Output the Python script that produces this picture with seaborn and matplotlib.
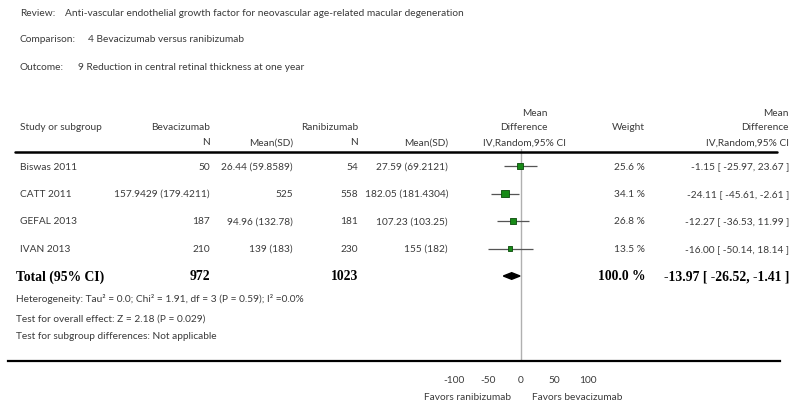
import numpy as np
import pandas as pd
import matplotlib
matplotlib.use("Agg")
import matplotlib.pyplot as plt
import seaborn as sns
from matplotlib.lines import Line2D
from matplotlib.transforms import blended_transform_factory

# Study data
studies = ["Biswas 2011", "CATT 2011", "GEFAL 2013", "IVAN 2013"]
bev_n = ["50", "157.9429 (179.4211)", "187", "210"]
bev_mean = ["26.44 (59.8589)", "525", "94.96 (132.78)", "139 (183)"]
ran_n = ["54", "558", "181", "230"]
ran_mean = ["27.59 (69.2121)", "182.05 (181.4304)", "107.23 (103.25)", "155 (182)"]
md = [-1.15, -24.11, -12.27, -16.00]
ci_low = [-25.97, -45.61, -36.53, -50.14]
ci_high = [23.67, -2.61, 11.99, 18.14]
weight = [25.6, 34.1, 26.8, 13.5]

total_bev_n = "972"
total_ran_n = "1023"
total_md, total_low, total_high = -13.97, -26.52, -1.41
tick_vals = [-100, -50, 0, 50, 100]

df = pd.DataFrame({"study": studies, "md": md, "low": ci_low, "high": ci_high,
                   "weight": weight, "row": np.arange(len(studies))})

sns.set_style("white")
plt.rcParams["font.family"] = ["Lato", "DejaVu Sans"]
txt = "#3a3a3a"
fs = 7.3

W, H = 800, 410
def fx(x):
    return x / W
def fy(y):
    return 1 - y / H

fig = plt.figure(figsize=(8, 4.1), dpi=100)

# forest axes: zero at x=521px, 0.666 px per unit
ax = fig.add_axes([fx(8), fy(362), (780 - 8) / W, (362 - 150) / H])
ax.set_xlim((8 - 521) / 0.666, (780 - 521) / 0.666)
row_h = 27.5
ax.set_ylim((362 - 167) / row_h, (150 - 167) / row_h)

ax.axvline(0, color="#b0b0b0", lw=1.0, zorder=0)
ax.hlines(df["row"], df["low"], df["high"], color="#555555", lw=0.9, zorder=1)
sns.scatterplot(data=df, x="md", y="row", size="weight", sizes=(9, 27),
                marker="s", color="#178a17", edgecolor="#0a4a0a", linewidth=0.6,
                legend=False, ax=ax, zorder=2)

# summary diamond
trow = len(studies)
ax.fill([total_low, total_md, total_high, total_md],
        [trow, trow - 0.12, trow, trow + 0.12], color="black", zorder=3)

for s in ["left", "top", "right"]:
    ax.spines[s].set_visible(False)
ax.spines["bottom"].set_linewidth(1.6)
ax.spines["bottom"].set_color("black")
ax.set_yticks([])
ax.set_xticks(tick_vals)
ax.set_xticklabels([str(v) for v in tick_vals])
ax.tick_params(axis="x", direction="in", length=4, width=1, color="black",
               pad=10, labelsize=fs, labelcolor=txt)
ax.set_xlabel("")
ax.set_ylabel("")
ax.patch.set_alpha(0)

# title block
fig.text(fx(20), fy(13), "Review:", fontsize=fs, color=txt, va="center")
fig.text(fx(65), fy(13), "Anti-vascular endothelial growth factor for neovascular age-related macular degeneration",
         fontsize=fs, color=txt, va="center")
fig.text(fx(20), fy(40), "Comparison:", fontsize=fs, color=txt, va="center")
fig.text(fx(88), fy(40), "4 Bevacizumab versus ranibizumab", fontsize=fs, color=txt, va="center")
fig.text(fx(20), fy(68), "Outcome:", fontsize=fs, color=txt, va="center")
fig.text(fx(78), fy(68), "9 Reduction in central retinal thickness at one year", fontsize=fs, color=txt, va="center")

# column headers
hdr = dict(fontsize=fs, color=txt, va="center")
fig.text(fx(20), fy(127), "Study or subgroup", ha="left", **hdr)
fig.text(fx(210), fy(127), "Bevacizumab", ha="right", **hdr)
fig.text(fx(358), fy(127), "Ranibizumab", ha="right", **hdr)
fig.text(fx(210), fy(143), "N", ha="right", **hdr)
fig.text(fx(293), fy(143), "Mean(SD)", ha="right", **hdr)
fig.text(fx(358), fy(143), "N", ha="right", **hdr)
fig.text(fx(448), fy(143), "Mean(SD)", ha="right", **hdr)
fig.text(fx(548), fy(114), "Mean", ha="right", **hdr)
fig.text(fx(548), fy(127), "Difference", ha="right", **hdr)
fig.text(fx(483), fy(143), "IV,Random,95% CI", ha="left", **hdr)
fig.text(fx(645), fy(127), "Weight", ha="right", **hdr)
fig.text(fx(789), fy(114), "Mean", ha="right", **hdr)
fig.text(fx(789), fy(127), "Difference", ha="right", **hdr)
fig.text(fx(789), fy(143), "IV,Random,95% CI", ha="right", **hdr)

fig.add_artist(Line2D([fx(15), fx(777)], [fy(153), fy(153)], transform=fig.transFigure,
                      color="black", lw=1.8))

# study rows
trans = blended_transform_factory(fig.transFigure, ax.transData)
for i in range(len(studies)):
    kw = dict(transform=trans, fontsize=fs, color=txt, va="center")
    ax.text(fx(20), i, studies[i], ha="left", **kw)
    ax.text(fx(210), i, bev_n[i], ha="right", **kw)
    ax.text(fx(293), i, bev_mean[i], ha="right", **kw)
    ax.text(fx(358), i, ran_n[i], ha="right", **kw)
    ax.text(fx(448), i, ran_mean[i], ha="right", **kw)
    ax.text(fx(645), i, f"{weight[i]:.1f} %", ha="right", **kw)
    ax.text(fx(789), i, f"{md[i]:.2f} [ {ci_low[i]:.2f}, {ci_high[i]:.2f} ]", ha="right", **kw)

# total row
bold = dict(transform=trans, fontsize=9.8, color="black", va="center",
            family="Liberation Serif", fontweight="bold")
ax.text(fx(16), trow, "Total (95% CI)", ha="left", **bold)
ax.text(fx(210), trow, total_bev_n, ha="right", **bold)
ax.text(fx(358), trow, total_ran_n, ha="right", **bold)
ax.text(fx(645), trow, f"{sum(weight):.1f} %", ha="right", **bold)
ax.text(fx(789), trow, f"{total_md:.2f} [ {total_low:.2f}, {total_high:.2f} ]", ha="right", **bold)

# footnotes
fig.text(fx(16), fy(299), "Heterogeneity: Tau² = 0.0; Chi² = 1.91, df = 3 (P = 0.59); I² =0.0%", **hdr)
fig.text(fx(16), fy(319), "Test for overall effect: Z = 2.18 (P = 0.029)", **hdr)
fig.text(fx(16), fy(337), "Test for subgroup differences: Not applicable", **hdr)

fig.text(fx(467), fy(398), "Favors ranibizumab", ha="center", **hdr)
fig.text(fx(577), fy(398), "Favors bevacizumab", ha="center", **hdr)

fig.savefig("out.png", dpi=100)
